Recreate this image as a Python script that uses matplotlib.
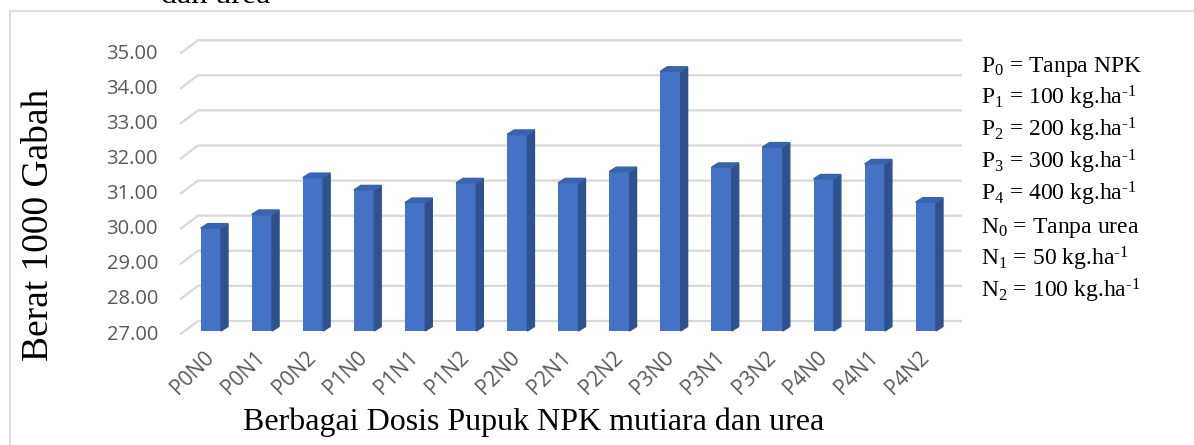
import numpy as np
import matplotlib
matplotlib.use("Agg")
import matplotlib.pyplot as plt
from matplotlib.patches import Polygon
from matplotlib.lines import Line2D

# data
labels = ['P0N0', 'P0N1', 'P0N2', 'P1N0', 'P1N1', 'P1N2', 'P2N0', 'P2N1',
          'P2N2', 'P3N0', 'P3N1', 'P3N2', 'P4N0', 'P4N1', 'P4N2']
berat = [29.93, 30.32, 31.37, 31.02, 30.66, 31.22, 32.60, 31.22,
         31.54, 34.40, 31.66, 32.24, 31.33, 31.76, 30.67]
yticks = [27, 28, 29, 30, 31, 32, 33, 34, 35]
keterangan = [r'P$_0$ = Tanpa NPK',
              r'P$_1$ = 100 kg.ha$^{\text{-1}}$',
              r'P$_2$ = 200 kg.ha$^{\text{-1}}$',
              r'P$_3$ = 300 kg.ha$^{\text{-1}}$',
              r'P$_4$ = 400 kg.ha$^{\text{-1}}$',
              r'N$_0$ = Tanpa urea',
              r'N$_1$ = 50 kg.ha$^{\text{-1}}$',
              r'N$_2$ = 100 kg.ha$^{\text{-1}}$']

plt.rcParams['mathtext.fontset'] = 'custom'
plt.rcParams['mathtext.rm'] = 'Liberation Serif'
plt.rcParams['mathtext.it'] = 'Liberation Serif:italic'
serif = 'Liberation Serif'
sans = 'Open Sans'
gray = '#595959'
grid = '#d9d9d9'

W, H = 1194, 445
fig = plt.figure(figsize=(W / 100, H / 100), dpi=100)

# axes placed in pixels: x 160..970, y 20..345
ax = fig.add_axes([160 / W, 1 - 345 / H, 810 / W, 325 / H])
sx = 51.07   # px per bar
sy = 35.1    # px per unit
ax.set_xlim((160 - 210.85) / sx, (970 - 210.85) / sx)
ax.set_ylim(27 - 14 / sy, 27 + 311 / sy)
for s in ax.spines.values():
    s.set_visible(False)
ax.tick_params(length=0)
ax.set_yticks([])

def px(dx=0, dy=0):
    return dx / sx, dy / sy

# back wall gridlines with perspective stub on the left
bx0, _ = px((198 - 210.85))
bx1, _ = px((962 - 210.85))
fx0, _ = px((180 - 210.85))
_, up = px(dy=10)
_, down = px(dy=3.5)
for v in yticks:
    ax.plot([fx0, bx0, bx1], [v - down, v + up, v + up], color=grid, lw=1.6,
            solid_capstyle='butt', zorder=1)
    ax.text(fx0 - 22 / sx, v - down, f'{v:.2f}', ha='right', va='center',
            fontsize=14.5, family=sans, color=gray)

# 3d-looking bars
x = np.arange(len(labels))
w = 20.3 / sx
ddx, ddy = px(7, 4.5)
ax.bar(x, np.array(berat) - 27, bottom=27, width=w, color='#4472C4', zorder=3)
for xi, v in zip(x, berat):
    l, r = xi - w / 2, xi + w / 2
    side = Polygon([[r, 27], [r + ddx, 27 + ddy], [r + ddx, v + ddy], [r, v]],
                   closed=True, color='#2F528F', zorder=3)
    top = Polygon([[l, v], [r, v], [r + ddx, v + ddy], [l + ddx, v + ddy]],
                  closed=True, color='#3A63AE', zorder=3)
    ax.add_patch(side)
    ax.add_patch(top)

ax.set_xticks(x)
ax.set_xticklabels(labels, rotation=45, ha='right', va='center',
                   rotation_mode='anchor', fontsize=15, family=sans, color=gray)
ax.tick_params(axis='x', pad=7)

# axis titles
fig.text(534 / W, 1 - 430 / H, 'Berbagai Dosis Pupuk NPK mutiara dan urea',
         ha='center', va='baseline', fontsize=23, family=serif)
fig.text(39 / W, 1 - 225 / H, 'Berat 1000 Gabah', rotation=90,
         ha='center', va='center', fontsize=27, family=serif)
# cut off title remnant at top
fig.text(216 / W, 1 - 3 / H, 'dan urea', ha='center', va='baseline',
         fontsize=23, family=serif)

# notes on the right
for i, t in enumerate(keterangan):
    fig.text(981 / W, 1 - (71.7 + 32.3 * i) / H, t, ha='left', va='baseline',
             fontsize=17, family=serif)

# chart area border (left and top only visible)
fig.add_artist(Line2D([10 / W, 10 / W], [0, 1 - 11 / H], color=grid, lw=1.2))
fig.add_artist(Line2D([10 / W, 1], [1 - 11 / H, 1 - 11 / H], color=grid, lw=1.2))

fig.savefig('out.png', dpi=100)
